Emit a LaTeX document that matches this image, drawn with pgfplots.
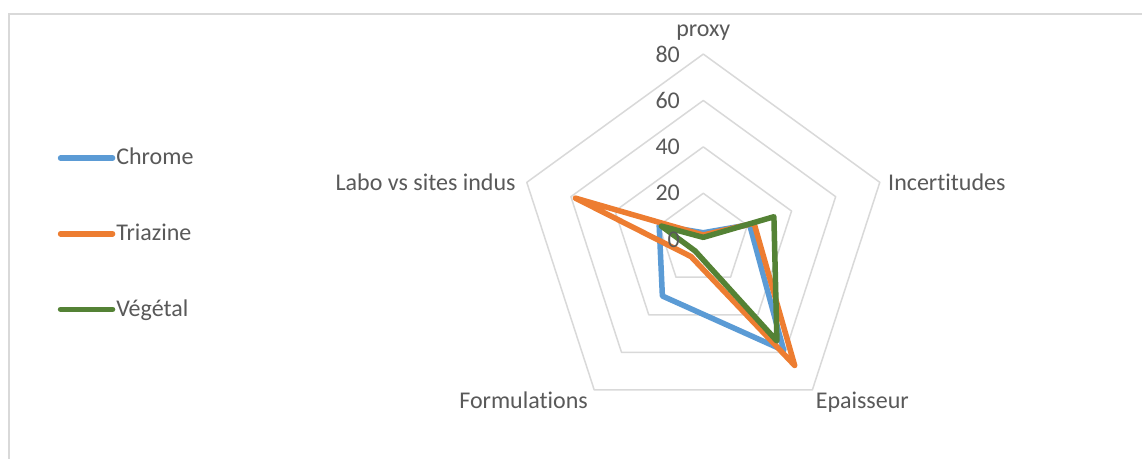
\documentclass[border=0pt]{standalone}
\usepackage{pgfplots}
\pgfplotsset{compat=1.18}
\usepgfplotslibrary{polar}
\usepackage{fontspec}
\setmainfont{Carlito}[Ligatures=NoCommon]
\definecolor{cChrome}{HTML}{5B9BD5}
\definecolor{cTri}{HTML}{ED7D31}
\definecolor{cVeg}{HTML}{548235}
\definecolor{gridc}{HTML}{D9D9D9}
\definecolor{txt}{HTML}{595959}
\begin{document}
\begin{tikzpicture}
\useasboundingbox (0,0) rectangle (571pt,229.5pt);
\fill[white] (0,0) rectangle (571pt,229.5pt);
\draw[gridc, line width=0.75pt] (4.5pt,0) -- (4.5pt,222.5pt) -- (571pt,222.5pt);
\begin{polaraxis}[
  at={(351.65pt,109.65pt)}, anchor=center,
  width=185.6pt, height=185.6pt, scale only axis,
  xmin=0, xmax=360, ymin=0, ymax=80,
  hide axis, clip=false,
  font=\fontsize{12}{14}\selectfont,
  legend style={at={(-1.240,0.516)}, anchor=west, draw=none, fill=none, inner sep=0pt, row sep=27pt, nodes={inner sep=0.5pt, text=txt}, font=\fontsize{12}{14}\selectfont},
  legend cell align=left,
  legend image code/.code={\draw[#1] (1.4pt,0pt) -- (27.4pt,0pt);},
  every axis plot/.append style={line join=round, line cap=round},
]
\addplot[gridc, line width=0.75pt, forget plot] coordinates {(90,20) (18,20) (306,20) (234,20) (162,20) (90,20)};
\addplot[gridc, line width=0.75pt, forget plot] coordinates {(90,40) (18,40) (306,40) (234,40) (162,40) (90,40)};
\addplot[gridc, line width=0.75pt, forget plot] coordinates {(90,60) (18,60) (306,60) (234,60) (162,60) (90,60)};
\addplot[gridc, line width=0.75pt, forget plot] coordinates {(90,80) (18,80) (306,80) (234,80) (162,80) (90,80)};
% series: proxy, Incertitudes, Epaisseur, Formulations, Labo vs sites indus
\addplot[cChrome, line width=2.75pt] coordinates {(90,3) (18,21) (306,59) (234,30) (162,20) (90,3)};
\addlegendentry{Chrome}
\addplot[cTri, line width=2.75pt] coordinates {(90,2) (18,23) (306,67) (234,9) (162,58) (90,2)};
\addlegendentry{Triazine}
\addplot[cVeg, line width=2.75pt] coordinates {(90,1) (18,32) (306,54) (234,6) (162,19) (90,1)};
\addlegendentry{Végétal}
\foreach \v in {0,20,40,60,80} {
  \edef\tmp{\noexpand\node[anchor=east, inner sep=0pt, text=txt, xshift=-11.5pt] at (axis cs:90,\v) {\v};}
  \tmp
}
\node[anchor=south, inner sep=0pt, text=txt, yshift=6.5pt] at (axis cs:90,80) {proxy};
\node[anchor=west, inner sep=0pt, text=txt, xshift=4pt] at (axis cs:18,80) {Incertitudes};
\node[anchor=north west, inner sep=0pt, text=txt, xshift=1.5pt, yshift=-1pt] at (axis cs:306,80) {Epaisseur};
\node[anchor=north east, inner sep=0pt, text=txt, xshift=-3pt, yshift=-1pt] at (axis cs:234,80) {Formulations};
\node[anchor=east, inner sep=0pt, text=txt, xshift=-5.4pt] at (axis cs:162,80) {Labo vs sites indus};
\end{polaraxis}
\end{tikzpicture}
\end{document}
